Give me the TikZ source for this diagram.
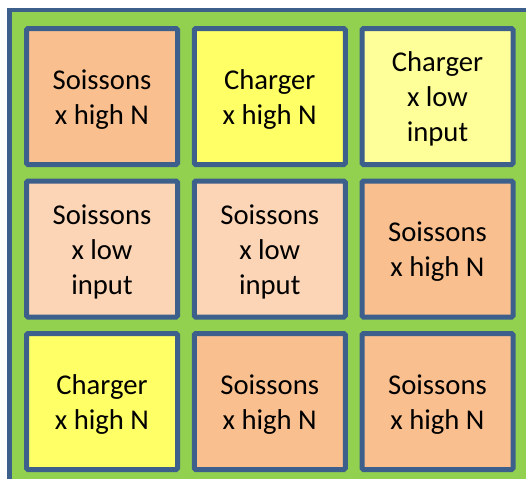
\documentclass[tikz,border=0pt]{standalone}
\usepackage{fontspec}
\setmainfont{Carlito}
\usepackage{tikz}
\definecolor{fieldgreen}{HTML}{92D050}
\definecolor{plotedge}{HTML}{3C5F8C}
\definecolor{peach}{HTML}{F9BF8F}
\definecolor{lightpeach}{HTML}{FBD5B5}
\definecolor{brightyellow}{HTML}{FFFF66}
\definecolor{paleyellow}{HTML}{FFFF99}
\tikzset{plot/.style={draw=plotedge, line width=3.75pt, rounded corners=1pt,
    minimum width=113.25pt, minimum height=102pt, inner sep=0pt, align=center,
    font=\fontsize{21.5}{26.25}\selectfont}}
\newcommand{\lift}{\rule{0pt}{19pt}}

\begin{document}
\begin{tikzpicture}[x=0.75pt, y=-0.75pt]
\useasboundingbox (0,0) rectangle (526,479);
\clip (0,0) rectangle (526,479);
\draw[draw=plotedge, fill=fieldgreen, line width=3.4pt] (9.5,10) rectangle (560,520);
\foreach \r/\c/\col/\txt in {
    1/1/peach/{Soissons\\x high N},
    1/2/brightyellow/{Charger\\x high N},
    1/3/paleyellow/{Charger\\x low\\input},
    2/1/lightpeach/{Soissons\\x low\\input},
    2/2/lightpeach/{Soissons\\x low\\input},
    2/3/peach/{Soissons\\x high N},
    3/1/brightyellow/{Charger\\x high N},
    3/2/peach/{Soissons\\x high N},
    3/3/peach/{Soissons\\x high N}} {
    \pgfmathsetmacro{\px}{102 + 167.75*(\c - 1)}
    \pgfmathsetmacro{\py}{96.5 + 152.5*(\r - 1)}
    \node[plot, fill=\col] (p\r\c) at (\px,\py) {\lift\txt};
}
\end{tikzpicture}
\end{document}
